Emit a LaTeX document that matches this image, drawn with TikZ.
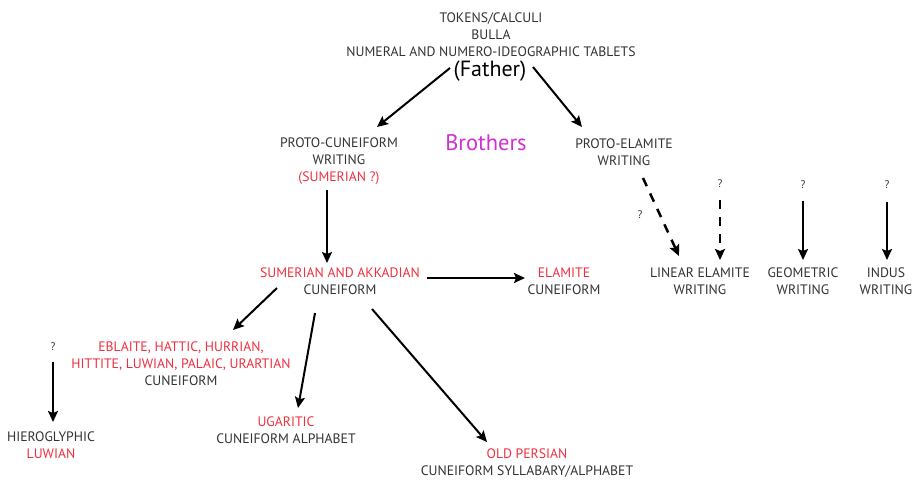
\documentclass[tikz,border=0pt]{standalone}
\usepackage{fontspec}
\setmainfont{PT Sans}
\usetikzlibrary{arrows.meta}
\definecolor{TG}{HTML}{333333}
\definecolor{RD}{HTML}{EE3040}
\definecolor{MG}{HTML}{D22FD2}
\tikzset{
    TX/.style ={align=center, text=TG, inner sep=1pt, font=\fontsize{13.7}{17}\selectfont},
    QM/.style ={text=TG, inner sep=1pt, font=\fontsize{11}{12}\selectfont},
    AR/.style ={-{Stealth[length=11pt,width=10pt,inset=2pt]}, line width=2pt},
    DA/.style ={AR, line width=2.5pt, dash pattern=on 9pt off 8pt}}
\newcommand{\rd}[1]{\textcolor{RD}{#1}}

\begin{document}
\begin{tikzpicture}[x=1pt,y=-1pt]
        \useasboundingbox (0,0) rectangle (916,480);
        \node[TX] (src) at (491,35) {TOKENS/CALCULI\\BULLA\\NUMERAL AND NUMERO-IDEOGRAPHIC TABLETS};
        \node[TX, font=\fontsize{22}{24}\selectfont, text=black] (father) at (490,71) {(Father)};
        \node[TX] (pcw) at (339,161) {PROTO-CUNEIFORM\\WRITING\\\rd{(SUMERIAN ?)}};
        \node[TX, font=\fontsize{22.5}{24}\selectfont, text=MG] (bro) at (486,143) {Brothers};
        \node[TX] (pew) at (624,152.5) {PROTO-ELAMITE\\WRITING};
        \node[TX] (sak) at (340,281.5) {\rd{SUMERIAN AND AKKADIAN}\\CUNEIFORM};
        \node[TX] (ela) at (564,281.5) {\rd{ELAMITE}\\CUNEIFORM};
        \node[TX] (lew) at (700,281.5) {LINEAR ELAMITE\\WRITING};
        \node[TX] (geo) at (803,281.5) {GEOMETRIC\\WRITING};
        \node[TX] (ind) at (886,281.5) {INDUS\\WRITING};
        \node[TX] (ehh) at (181,364) {\rd{EBLAITE, HATTIC, HURRIAN,}\\\rd{HITTITE, LUWIAN, PALAIC, URARTIAN}\\CUNEIFORM};
        \node[TX] (hlu) at (51,445.5) {HIEROGLYPHIC\\\rd{LUWIAN}};
        \node[TX] (uga) at (286,430.5) {\rd{UGARITIC}\\CUNEIFORM ALPHABET};
        \node[TX] (ope) at (527,463.5) {\rd{OLD PERSIAN}\\CUNEIFORM SYLLABARY/ALPHABET};
        % question marks
        \node[QM] (q1) at (640,215) {?};
        \node[QM] (q2) at (720,184) {?};
        \node[QM] (q3) at (803,185) {?};
        \node[QM] (q4) at (887,185) {?};
        \node[QM] (q5) at (53,347) {?};
        % arrows
        \draw[AR] ([xshift=-40pt,yshift=3pt]father.center) -- ([xshift=38pt,yshift=34pt]pcw.center);
        \draw[AR] ([xshift=43pt,yshift=4pt]father.center) -- ([xshift=-42pt,yshift=25.5pt]pew.center);
        \draw[AR] ([xshift=-12pt,yshift=-29pt]pcw.center) -- ([xshift=-13pt,yshift=18.5pt]sak.center);
        \draw[AR] ([xshift=87pt,yshift=3.5pt]sak.center) -- ([xshift=-39pt,yshift=3.5pt]ela.center);
        \draw[DA] ([xshift=19pt,yshift=-25.5pt]pew.center) -- ([xshift=-21pt,yshift=25.5pt]lew.center);
        \draw[DA] ([yshift=-16pt]q2.center) -- ([xshift=20pt,yshift=21.5pt]lew.center);
        \draw[AR] ([yshift=-16pt]q3.center) -- ([yshift=21.5pt]geo.center);
        \draw[AR] ([yshift=-17pt]q4.center) -- ([xshift=1pt,yshift=21.5pt]ind.center);
        \draw[AR] ([yshift=-15pt]q5.center) -- ([xshift=2pt,yshift=23.5pt]hlu.center);
        \draw[AR] ([xshift=-63pt,yshift=-6.5pt]sak.center) -- ([xshift=52pt,yshift=34pt]ehh.center);
        \draw[AR] ([xshift=-25pt,yshift=-31.5pt]sak.center) -- ([xshift=12pt,yshift=22.5pt]uga.center);
        \draw[AR] ([xshift=32pt,yshift=-27.5pt]sak.center) -- ([xshift=-40pt,yshift=21.5pt]ope.center);
\end{tikzpicture}
\end{document}
